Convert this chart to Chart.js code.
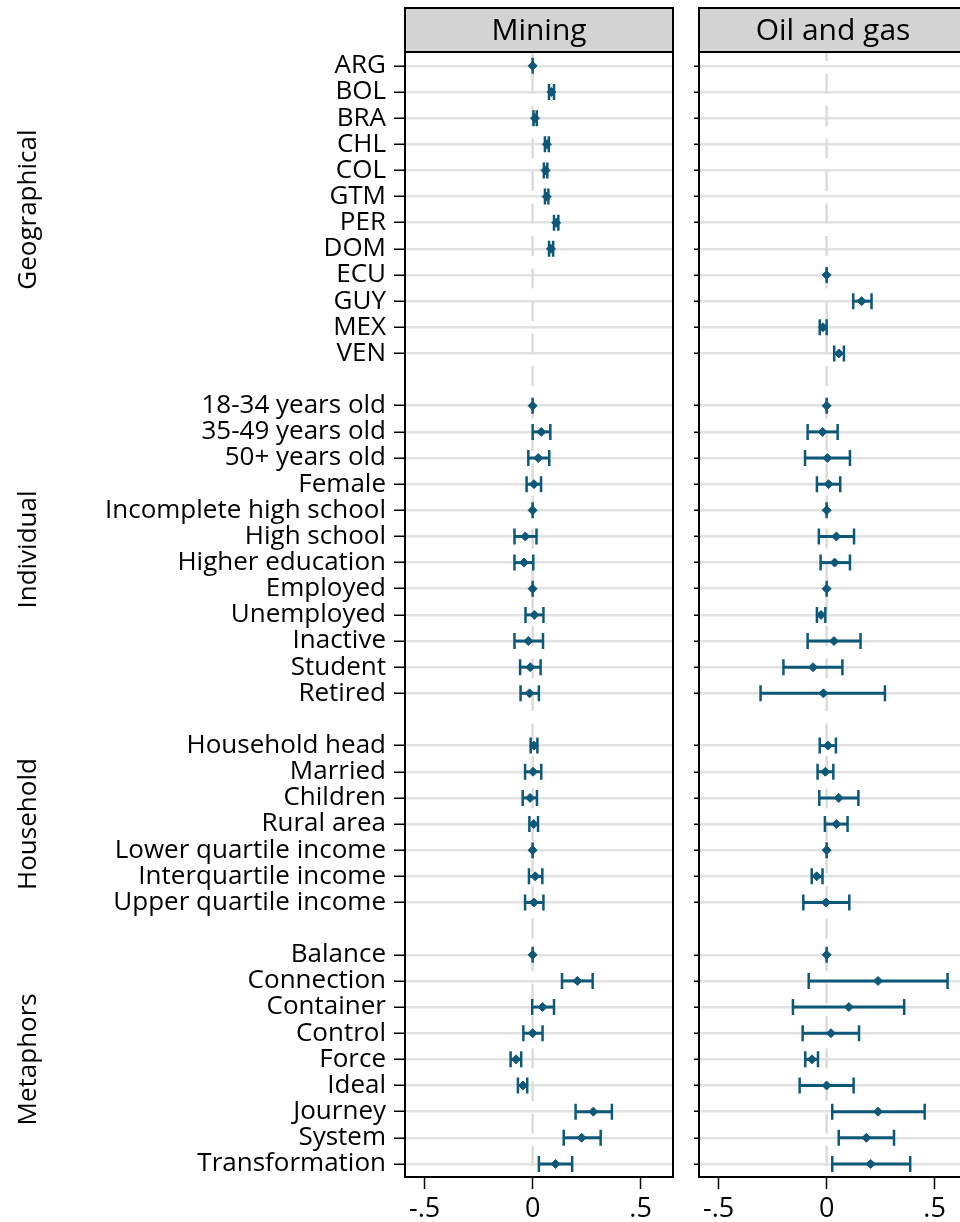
<!DOCTYPE html>
<html>
  <head>
    <meta charset="utf-8">
    <title>Mining and oil and gas coefficients</title>
    <script src="https://cdn.jsdelivr.net/npm/chart.js"></script>
    <style>
      body { margin: 0; padding: 0; background: white; width: 960px; height: 1222px; overflow: hidden; position: relative; }
      canvas { position: absolute; top: 0; }
      #mining { left: 0; }
      #oil { left: 690px; }
    </style>
  </head>
  <body>
    <canvas id="mining" width="680" height="1222"></canvas>
    <canvas id="oil" width="287" height="1222"></canvas>

    <script>
      // groups and their row labels (one blank row between groups)
      const groups = ['Geographical', 'Individual', 'Household', 'Metaphors'];
      const geoLabels = ['ARG', 'BOL', 'BRA', 'CHL', 'COL', 'GTM', 'PER', 'DOM', 'ECU', 'GUY', 'MEX', 'VEN'];
      const indLabels = ['18-34 years old', '35-49 years old', '50+ years old', 'Female', 'Incomplete high school',
        'High school', 'Higher education', 'Employed', 'Unemployed', 'Inactive', 'Student', 'Retired'];
      const hhLabels = ['Household head', 'Married', 'Children', 'Rural area', 'Lower quartile income',
        'Interquartile income', 'Upper quartile income'];
      const metLabels = ['Balance', 'Connection', 'Container', 'Control', 'Force', 'Ideal', 'Journey', 'System', 'Transformation'];
      const panels = ['Mining', 'Oil and gas'];

      // Mining: estimate, lower and upper bound (null = not in the sample)
      const miningCoef = [0, 0.087, 0.011, 0.066, 0.060, 0.065, 0.109, 0.085, null, null, null, null,
        0, 0.040, 0.026, 0.006, 0, -0.034, -0.040, 0, 0.008, -0.020, -0.011, -0.014,
        0.006, 0.002, -0.012, 0.005, 0, 0.012, 0.006,
        0, 0.207, 0.046, 0.000, -0.077, -0.045, 0.281, 0.227, 0.106];
      const miningLo = [0, 0.076, 0.004, 0.057, 0.052, 0.057, 0.099, 0.076, null, null, null, null,
        0, 0.000, -0.020, -0.028, 0, -0.084, -0.084, 0, -0.033, -0.084, -0.058, -0.056,
        -0.009, -0.035, -0.046, -0.015, 0, -0.017, -0.035,
        0, 0.136, -0.002, -0.043, -0.102, -0.068, 0.199, 0.144, 0.029];
      const miningHi = [0, 0.099, 0.019, 0.075, 0.068, 0.073, 0.119, 0.095, null, null, null, null,
        0, 0.082, 0.077, 0.039, 0, 0.018, 0.003, 0, 0.050, 0.048, 0.037, 0.029,
        0.022, 0.040, 0.020, 0.025, 0, 0.045, 0.050,
        0, 0.278, 0.099, 0.046, -0.053, -0.025, 0.367, 0.315, 0.183];

      // Oil and gas
      const oilCoef = [null, null, null, null, null, null, null, null, 0, 0.162, -0.017, 0.057,
        0, -0.019, 0.003, 0.009, 0, 0.045, 0.037, 0, -0.026, 0.034, -0.063, -0.015,
        0.006, -0.006, 0.056, 0.045, 0, -0.046, -0.003,
        0, 0.238, 0.103, 0.020, -0.068, 0.000, 0.238, 0.184, 0.204];
      const oilLo = [null, null, null, null, null, null, null, null, 0, 0.123, -0.032, 0.035,
        0, -0.088, -0.100, -0.045, 0, -0.036, -0.028, 0, -0.045, -0.088, -0.200, -0.306,
        -0.032, -0.042, -0.034, -0.008, 0, -0.069, -0.108,
        0, -0.083, -0.156, -0.111, -0.099, -0.125, 0.026, 0.056, 0.026];
      const oilHi = [null, null, null, null, null, null, null, null, 0, 0.208, 0, 0.080,
        0, 0.051, 0.108, 0.063, 0, 0.127, 0.108, 0, -0.006, 0.157, 0.073, 0.270,
        0.043, 0.031, 0.147, 0.097, 0, -0.019, 0.105,
        0, 0.560, 0.359, 0.150, -0.040, 0.125, 0.454, 0.312, 0.387];

      const xTicks = [-0.5, 0, 0.5];
      const xMin = -0.591, xMax = 0.65;
      const markColor = '#0d5878';
      const fontFamily = '"Open Sans", Lato, sans-serif';

      // row positions with a blank row between groups
      const groupLabels = [geoLabels, indLabels, hhLabels, metLabels];
      const labels = [];
      const rows = [];
      const groupRange = [];
      let r = 0;
      groupLabels.forEach((g, gi) => {
        groupRange.push([r, r + g.length - 1]);
        g.forEach(l => { labels.push(l); rows.push(r); r++; });
        r++;
      });
      const rowLabel = {};
      rows.forEach((v, i) => { rowLabel[v] = labels[i]; });

      function points(coef, lo, hi) {
        const out = [];
        coef.forEach((c, i) => {
          if (c !== null) out.push({ x: c, y: rows[i], lo: lo[i], hi: hi[i] });
        });
        return out;
      }

      // error bars, zero line, strip header and frame
      const panelPlugin = {
        id: 'panel',
        beforeDatasetsDraw(chart) {
          const { ctx, chartArea: a, scales: { x, y } } = chart;
          ctx.save();
          ctx.strokeStyle = '#dcdcd8';
          ctx.lineWidth = 2.5;
          ctx.setLineDash([20, 12.5]);
          ctx.lineDashOffset = 11;
          const x0 = x.getPixelForValue(0);
          ctx.beginPath();
          ctx.moveTo(x0, a.top);
          ctx.lineTo(x0, a.bottom);
          ctx.stroke();
          ctx.setLineDash([]);
          ctx.strokeStyle = markColor;
          chart.data.datasets[0].data.forEach(p => {
            const yp = y.getPixelForValue(p.y);
            const xl = x.getPixelForValue(p.lo);
            const xh = x.getPixelForValue(p.hi);
            ctx.lineWidth = 3;
            ctx.beginPath();
            ctx.moveTo(xl, yp);
            ctx.lineTo(xh, yp);
            ctx.stroke();
            ctx.lineWidth = 2.5;
            ctx.beginPath();
            ctx.moveTo(xl, yp - 8);
            ctx.lineTo(xl, yp + 8);
            ctx.moveTo(xh, yp - 8);
            ctx.lineTo(xh, yp + 8);
            ctx.stroke();
          });
          ctx.restore();
        },
        afterDraw(chart, args, opts) {
          const { ctx, chartArea: a } = chart;
          ctx.save();
          ctx.fillStyle = '#d3d3d3';
          ctx.fillRect(a.left, 8, a.right - a.left, a.top - 8);
          ctx.strokeStyle = 'black';
          ctx.lineWidth = 2;
          ctx.strokeRect(a.left, 8, a.right - a.left, a.top - 8);
          ctx.strokeRect(a.left, a.top, a.right - a.left, a.bottom - a.top);
          ctx.fillStyle = 'black';
          ctx.font = '30px ' + fontFamily;
          ctx.textAlign = 'center';
          ctx.textBaseline = 'middle';
          ctx.fillText(opts.title, (a.left + a.right) / 2, (8 + a.top) / 2 + 1);
          if (opts.groups) {
            const y = chart.scales.y;
            ctx.font = '26px ' + fontFamily;
            groups.forEach((g, i) => {
              const yc = (y.getPixelForValue(groupRange[i][0]) + y.getPixelForValue(groupRange[i][1])) / 2;
              ctx.save();
              ctx.translate(29, yc);
              ctx.rotate(-Math.PI / 2);
              ctx.fillText(g, 0, 0);
              ctx.restore();
            });
          }
          ctx.restore();
        }
      };

      function makeChart(id, panelIdx, data, showLabels) {
        return new Chart(document.getElementById(id), {
          type: 'scatter',
          data: {
            datasets: [{
              data: data,
              pointStyle: 'rectRot',
              pointRadius: 4.5,
              backgroundColor: markColor,
              borderColor: markColor,
              borderWidth: 1
            }]
          },
          options: {
            responsive: false,
            animation: false,
            events: [],
            layout: { padding: { top: 52, left: 0, right: showLabels ? 7 : 10, bottom: 0 } },
            plugins: {
              legend: { display: false },
              tooltip: { enabled: false },
              panel: { title: panels[panelIdx], groups: showLabels }
            },
            scales: {
              x: {
                type: 'linear',
                min: xMin,
                max: xMax,
                afterBuildTicks: s => { s.ticks = xTicks.map(v => ({ value: v })); },
                afterFit: s => { s.height = 45; },
                ticks: {
                  color: 'black',
                  font: { family: fontFamily, size: 27 },
                  padding: 4,
                  maxRotation: 0,
                  callback: v => v === 0 ? '0' : (v < 0 ? '-' : '') + String(Math.abs(v)).replace(/^0/, '')
                },
                grid: { drawOnChartArea: false, tickLength: 12, tickColor: 'black', tickWidth: 1.5 },
                border: { display: false }
              },
              y: {
                type: 'linear',
                reverse: true,
                min: -0.53,
                max: 42.5,
                afterBuildTicks: s => { s.ticks = rows.map(v => ({ value: v })); },
                afterFit: s => { s.width = showLabels ? 405 : 9; },
                ticks: {
                  display: showLabels,
                  autoSkip: false,
                  color: 'black',
                  padding: 8,
                  font: { family: fontFamily, size: 26 },
                  callback: v => rowLabel[v]
                },
                grid: { color: '#e2e2e2', lineWidth: 2.5, tickColor: 'black', tickWidth: 1.5, tickLength: showLabels ? 11 : 5 },
                border: { display: false }
              }
            }
          },
          plugins: [panelPlugin]
        });
      }

      makeChart('mining', 0, points(miningCoef, miningLo, miningHi), true);
      makeChart('oil', 1, points(oilCoef, oilLo, oilHi), false);
    </script>
  </body>
</html>
